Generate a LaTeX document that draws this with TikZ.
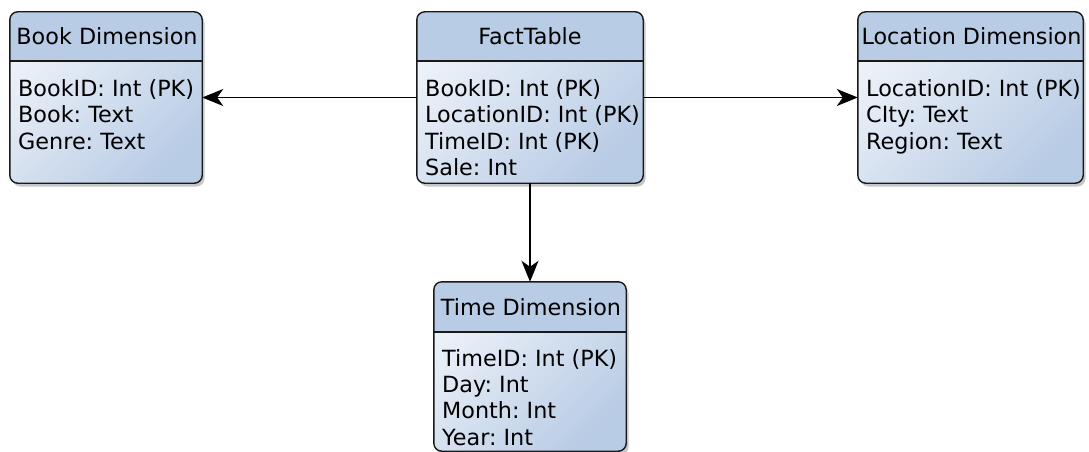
\documentclass[tikz,border=0pt]{standalone}
\usepackage{fontspec}
\setmainfont{DejaVu Sans}
\usetikzlibrary{shadows,arrows.meta}
\definecolor{hdr}{HTML}{B9CCE5}
\definecolor{lite}{HTML}{EDF2F9}
\tikzset{
 tbl/.style={rectangle, rounded corners=8pt, top color=lite, bottom color=hdr, shading angle=45,
   drop shadow={opacity=0.45, shadow xshift=2.5pt, shadow yshift=-3.5pt}, minimum height=171pt, inner sep=0pt},
 outline/.style={draw=black!90, line width=1.4pt, rounded corners=8pt},
 sepline/.style={draw=black!90, line width=1.4pt},
 ttl/.style={font=\fontsize{22.3}{27}\selectfont, anchor=base, inner sep=0pt},
 row/.style={font=\fontsize{22.3}{27}\selectfont, anchor=base west, inner sep=0pt},
 conn/.style={line width=1.6pt, -{Stealth[length=21pt,width=17pt,inset=6pt]}},
}
\begin{document}
\frenchspacing
\begin{tikzpicture}[x=1pt,y=-1pt]
\useasboundingbox (0,0) rectangle (1089,452);
% boxes
\node[tbl, minimum width=192pt] (book) at (106,97.5) {};
\node[tbl, minimum width=226pt] (fact) at (530,97.5) {};
\node[tbl, minimum width=225pt] (loc) at (970.5,97.5) {};
\node[tbl, minimum width=192pt, minimum height=169pt] (time) at (530,366.5) {};
% headers
\foreach \b/\h in {book/61, fact/61, loc/61, time/332}{
  \begin{scope}
    \clip[rounded corners=8pt] (\b.north west) rectangle (\b.south east);
    \fill[hdr] (\b.north west) rectangle (\b.east |- 0,\h);
  \end{scope}
  \draw[outline] (\b.north west) rectangle (\b.south east);
  \draw[sepline] (\b.west |- 0,\h) -- (\b.east |- 0,\h);
}
% titles
\node[ttl] (bookt) at (107,45) {Book Dimension};
\node[ttl] (factt) at (530,45) {FactTable};
\node[ttl] (loct) at (971.5,45) {Location Dimension};
\node[ttl] (timet) at (531,315) {Time Dimension};
% rows
\foreach \t [count=\i] in {{BookID: Int (PK)},{Book: Text},{Genre: Text}}
  \node[row, name=bookr\i] at (18,{96+26.8*(\i-1)}) {\t};
\foreach \t [count=\i] in {{BookID: Int (PK)},{LocationID: Int (PK)},{TimeID: Int (PK)},{Sale: Int}}
  \node[row, name=factr\i] at (425,{96+26.5*(\i-1)}) {\t};
\foreach \t [count=\i] in {{LocationID: Int (PK)},{CIty: Text},{Region: Text}}
  \node[row, name=locr\i] at (866,{96+26.8*(\i-1)}) {\t};
\foreach \t [count=\i] in {{TimeID: Int (PK)},{Day: Int},{Month: Int},{Year: Int}}
  \node[row, name=timer\i] at (442,{366+26.4*(\i-1)}) {\t};
% connectors
\draw[conn] (fact.west) -- (book.east);
\draw[conn] (fact.east) -- (loc.west);
\draw[conn] (fact.south) -- (time.north);
\end{tikzpicture}
\end{document}
